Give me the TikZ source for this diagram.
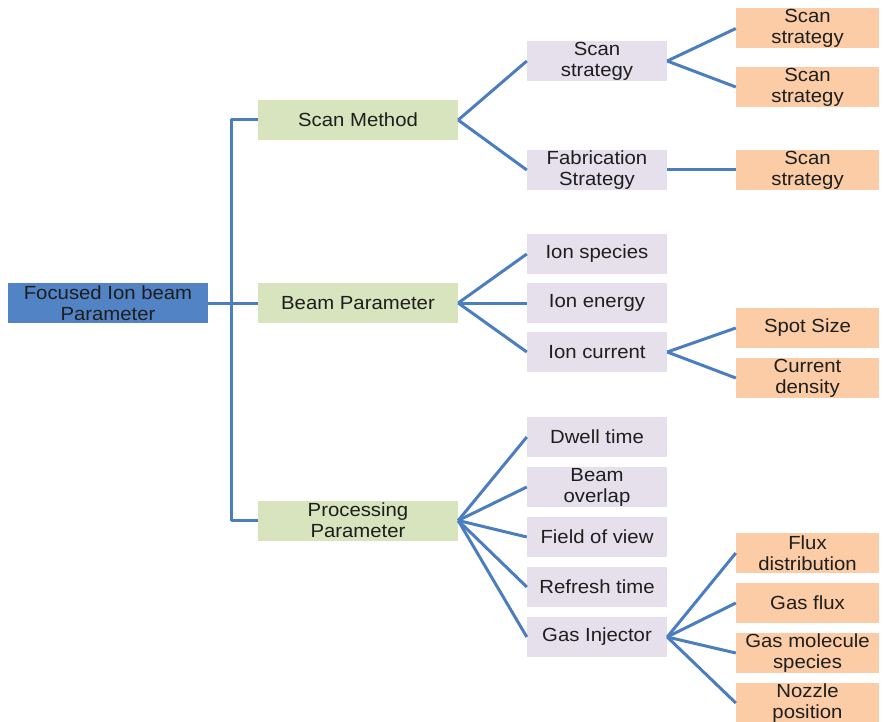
\documentclass[tikz,border=0pt]{standalone}
\usepackage{fontspec}
\setmainfont{Liberation Sans}[FakeStretch=1.07]
\definecolor{rootc}{HTML}{5283C4}
\definecolor{greenc}{HTML}{D7E4BD}
\definecolor{lavc}{HTML}{E5E0EC}
\definecolor{orc}{HTML}{FBCCA5}
\definecolor{linec}{HTML}{4A7EBF}
\definecolor{txtc}{HTML}{1E1E1E}
\tikzset{
  box/.style={rectangle, inner sep=0pt, align=center, text=txtc, minimum height=40pt,
    font=\fontsize{19pt}{21pt}\selectfont},
  rootbox/.style={box, fill=rootc, minimum width=200pt},
  greenbox/.style={box, fill=greenc, minimum width=200pt},
  lavbox/.style={box, fill=lavc, minimum width=140pt},
  orbox/.style={box, fill=orc, minimum width=143pt},
  conn/.style={draw=linec, line width=3pt, line join=round}
}
\begin{document}
\begin{tikzpicture}[x=1pt,y=-1pt]
\useasboundingbox (0,0) rectangle (883,722);
% root
\node[rootbox] (root) at (108,303) {Focused Ion beam\\Parameter};
% level 1
\node[greenbox] (sm) at (358,120) {Scan Method};
\node[greenbox] (bp) at (358,303) {Beam Parameter};
\node[greenbox] (pp) at (358,520.5) {Processing\\Parameter};
% level 2
\node[lavbox] (ss) at (597,61) {Scan\\strategy};
\node[lavbox] (fs) at (597,170) {Fabrication\\Strategy};
\node[lavbox] (is) at (597,254) {Ion species};
\node[lavbox] (ie) at (597,303) {Ion energy};
\node[lavbox] (ic) at (597,352) {Ion current};
\node[lavbox] (dt) at (597,437) {Dwell time};
\node[lavbox] (bo) at (597,487) {Beam\\overlap};
\node[lavbox] (fv) at (597,537) {Field of view};
\node[lavbox] (rt) at (597,587) {Refresh time};
\node[lavbox] (gi) at (597,637) {Gas Injector};
% level 3
\node[orbox] (s1) at (807.5,28.5) {Scan\\strategy};
\node[orbox] (s2) at (807.5,87) {Scan\\strategy};
\node[orbox] (s3) at (807.5,170) {Scan\\strategy};
\node[orbox] (spot) at (807.5,328) {Spot Size};
\node[orbox] (cd) at (807.5,378) {Current\\density};
\node[orbox] (fd) at (807.5,553) {Flux\\distribution};
\node[orbox] (gf) at (807.5,603) {Gas flux};
\node[orbox] (gm) at (807.5,653) {Gas molecule\\species};
\node[orbox] (np) at (807.5,703) {Nozzle\\position};
% connectors
\draw[conn] (root.east) -- (bp.west);
\draw[conn] (sm.west) -- ++(-26,0) |- (pp.west);
\foreach \c in {ss,fs} \draw[conn] (sm.east) -- (\c.west);
\foreach \c in {is,ie,ic} \draw[conn] (bp.east) -- (\c.west);
\foreach \c in {dt,bo,fv,rt,gi} \draw[conn] (pp.east) -- (\c.west);
\foreach \c in {s1,s2} \draw[conn] (ss.east) -- (\c.west);
\draw[conn] (fs.east) -- (s3.west);
\foreach \c in {spot,cd} \draw[conn] (ic.east) -- (\c.west);
\foreach \c in {fd,gf,gm,np} \draw[conn] (gi.east) -- (\c.west);
\end{tikzpicture}
\end{document}
